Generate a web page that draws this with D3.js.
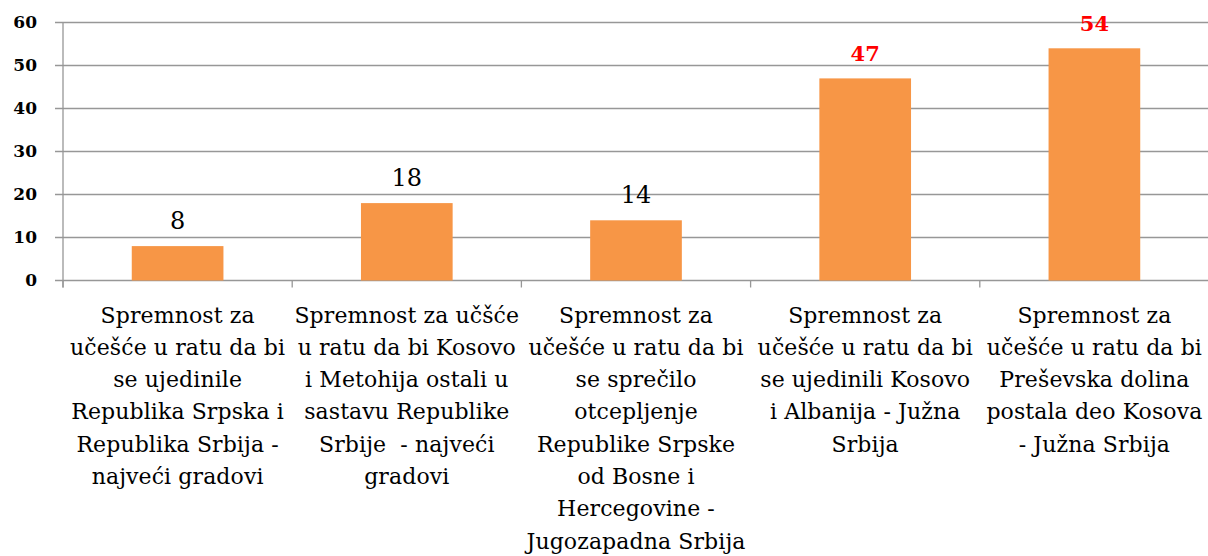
<!DOCTYPE html>
<html>
<head>
<meta charset="utf-8">
<script src="https://cdn.jsdelivr.net/npm/d3@7"></script>
<style>
  body { margin: 0; background: #fff; }
  svg { display: block; }
  .tick-label { font-family: "DejaVu Serif", serif; font-weight: bold; font-size: 17px; fill: #000; }
  .cat-label { font-family: "DejaVu Serif", serif; font-size: 22px; fill: #000; letter-spacing: 0.1px; white-space: pre; }
</style>
</head>
<body>
<div id="chart"></div>
<script>
// data
var categories = [
    ['Spremnost za', 'učešće u ratu da bi', 'se ujedinile', 'Republika Srpska i', 'Republika Srbija -', 'najveći gradovi'],
    ['Spremnost za učšće', 'u ratu da bi Kosovo', 'i Metohija ostali u', 'sastavu Republike', 'Srbije  - najveći', 'gradovi'],
    ['Spremnost za', 'učešće u ratu da bi', 'se sprečilo', 'otcepljenje', 'Republike Srpske', 'od Bosne i', 'Hercegovine -', 'Jugozapadna Srbija'],
    ['Spremnost za', 'učešće u ratu da bi', 'se ujedinili Kosovo', 'i Albanija - Južna', 'Srbija'],
    ['Spremnost za', 'učešće u ratu da bi', 'Preševska dolina', 'postala deo Kosova', '- Južna Srbija']
];
var values = [8, 18, 14, 47, 54];
var highlighted = [false, false, false, true, true];
var yTicks = [0, 10, 20, 30, 40, 50, 60];

var svgWidth = 1208;
var svgHeight = 556;

var margin = { top: 22.5, left: 63, right: -1, bottom: 275.5 };
var width = svgWidth - margin.left - margin.right;
var height = svgHeight - margin.top - margin.bottom;

var svg = d3.select('#chart')
    .append('svg')
    .attr('width', svgWidth)
    .attr('height', svgHeight);

var chartGroup = svg.append('g')
    .attr('transform', `translate(${margin.left}, ${margin.top})`);

var idx = values.map(function(d, i) { return i; });

var xBand = d3.scaleBand()
    .domain(idx)
    .range([0, width])
    .paddingInner(0.6)
    .paddingOuter(0.3);

var xCat = d3.scaleBand()
    .domain(idx)
    .range([0, width])
    .padding(0);

var yLinearScale = d3.scaleLinear()
    .domain([0, 60])
    .range([height, 0]);

// gridlines
chartGroup.selectAll('.grid')
    .data(yTicks)
    .enter()
    .append('line')
    .attr('x1', -8)
    .attr('x2', width)
    .attr('y1', d => yLinearScale(d))
    .attr('y2', d => yLinearScale(d))
    .attr('stroke', '#979797')
    .attr('stroke-width', 1.3);

// y axis line
chartGroup.append('line')
    .attr('x1', 0).attr('x2', 0)
    .attr('y1', 0).attr('y2', height + 7)
    .attr('stroke', '#979797')
    .attr('stroke-width', 1.3);

// category ticks
var catEdges = idx.map(i => xCat(i)).concat([width]);
chartGroup.selectAll('.ctick')
    .data(catEdges)
    .enter()
    .append('line')
    .attr('x1', d => d).attr('x2', d => d)
    .attr('y1', height).attr('y2', height + 7)
    .attr('stroke', '#979797')
    .attr('stroke-width', 1.3);

// y tick labels
chartGroup.selectAll('.tick-label')
    .data(yTicks)
    .enter()
    .append('text')
    .attr('class', 'tick-label')
    .attr('x', -26)
    .attr('y', d => yLinearScale(d))
    .attr('dy', '0.3em')
    .attr('text-anchor', 'end')
    .text(d => d);

// bars
chartGroup.selectAll('.bar')
    .data(values)
    .enter()
    .append('rect')
    .attr('x', (d, i) => xBand(i))
    .attr('y', d => yLinearScale(d))
    .attr('width', xBand.bandwidth())
    .attr('height', d => height - yLinearScale(d))
    .attr('fill', '#F79646');

// value labels
chartGroup.selectAll('.val')
    .data(values)
    .enter()
    .append('text')
    .attr('x', (d, i) => xBand(i) + xBand.bandwidth() / 2)
    .attr('y', d => yLinearScale(d) - 17)
    .attr('text-anchor', 'middle')
    .style('font-family', '"DejaVu Serif", serif')
    .style('font-size', (d, i) => highlighted[i] ? '21px' : '24px')
    .style('font-weight', (d, i) => highlighted[i] ? 'bold' : 'normal')
    .style('fill', (d, i) => highlighted[i] ? '#FF0000' : '#000')
    .text(d => d);

// category labels
var catGroups = chartGroup.selectAll('.cat')
    .data(categories)
    .enter()
    .append('text')
    .attr('class', 'cat-label')
    .attr('text-anchor', 'middle')
    .attr('transform', (d, i) => `translate(${xCat(i) + xCat.bandwidth() / 2}, ${height + 42})`);

catGroups.selectAll('tspan')
    .data(d => d)
    .enter()
    .append('tspan')
    .attr('x', 0)
    .attr('y', (d, j) => j * 32.3)
    .text(d => d);
</script>
</body>
</html>
